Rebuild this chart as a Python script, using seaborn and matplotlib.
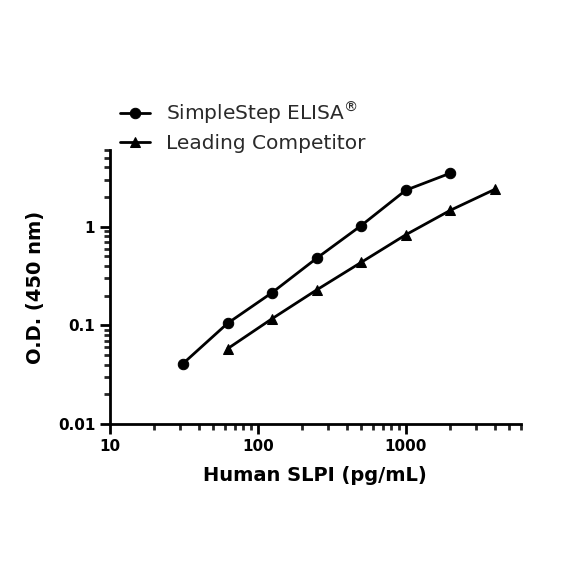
import numpy as np
import pandas as pd
import seaborn as sns
import matplotlib.pyplot as plt
from matplotlib.ticker import LogLocator, FixedLocator, NullFormatter

# concentrations (pg/mL) and O.D. readings
simplestep_conc = [31.25, 62.5, 125, 250, 500, 1000, 2000]
simplestep_od = [0.041, 0.105, 0.215, 0.48, 1.03, 2.35, 3.5]
competitor_conc = [62.5, 125, 250, 500, 1000, 2000, 4000]
competitor_od = [0.058, 0.117, 0.229, 0.436, 0.83, 1.47, 2.4]

x_ticks = [10, 100, 1000]
y_ticks = [0.01, 0.1, 1]

df = pd.concat([
    pd.DataFrame({'conc': simplestep_conc, 'od': simplestep_od, 'kit': 'SimpleStep ELISA$^{®}$'}),
    pd.DataFrame({'conc': competitor_conc, 'od': competitor_od, 'kit': 'Leading Competitor'}),
])

sns.set_style('ticks')
plt.rcParams['font.family'] = ['DejaVu Sans']

fig = plt.figure(figsize=(5.84, 5.84), dpi=100)
ax = fig.add_axes([0.188, 0.274, 0.704, 0.469])

sns.lineplot(data=df, x='conc', y='od', hue='kit', style='kit',
             markers={'SimpleStep ELISA$^{®}$': 'o', 'Leading Competitor': '^'},
             dashes=False, palette=['black', 'black'], linewidth=2,
             markersize=7.5, markeredgecolor='black', ax=ax)

ax.set_xscale('log')
ax.set_yscale('log')
ax.set_xlim(10, 6000)
ax.set_ylim(0.01, 6)

ax.xaxis.set_major_locator(FixedLocator(x_ticks))
ax.yaxis.set_major_locator(FixedLocator(y_ticks))
ax.set_xticklabels(['10', '100', '1000'])
ax.set_yticklabels(['0.01', '0.1', '1'])
ax.xaxis.set_minor_locator(LogLocator(base=10, subs=np.arange(2, 10)))
ax.yaxis.set_minor_locator(LogLocator(base=10, subs=np.arange(2, 10)))
ax.xaxis.set_minor_formatter(NullFormatter())
ax.yaxis.set_minor_formatter(NullFormatter())

for s in ['top', 'right']:
    ax.spines[s].set_visible(False)
for s in ['left', 'bottom']:
    ax.spines[s].set_linewidth(2)
    ax.spines[s].set_color('black')

ax.tick_params(which='major', length=7, width=2, labelsize=11, colors='black')
ax.tick_params(which='minor', length=4, width=2)
for lab in ax.get_xticklabels() + ax.get_yticklabels():
    lab.set_fontweight('bold')

ax.set_xlabel('Human SLPI (pg/mL)', fontsize=14, fontweight='bold', labelpad=9, color='black')
ax.set_ylabel('O.D. (450 nm)', fontsize=14, fontweight='bold', labelpad=9, color='black')

leg = ax.legend(loc='lower left', bbox_to_anchor=(0.005, 0.96), frameon=False,
                fontsize=14.5, handlelength=1.5, handletextpad=0.8, labelspacing=0.4,
                borderaxespad=0)
for t in leg.get_texts():
    t.set_color('#2a2a2a')

fig.savefig('out.png', dpi=100)
